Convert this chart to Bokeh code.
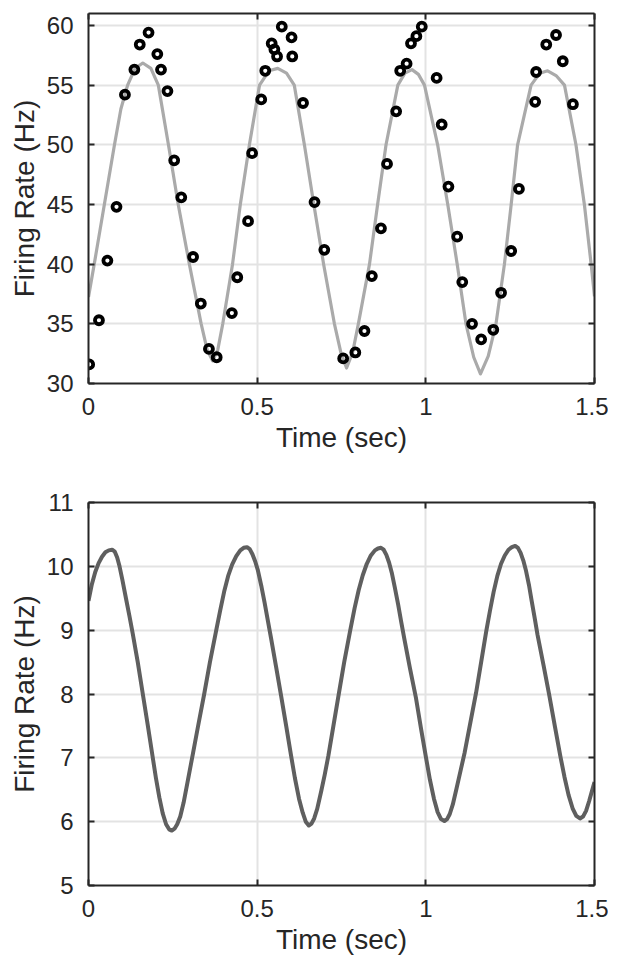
from bokeh.plotting import figure
from bokeh.layouts import column
from bokeh.models import Range1d, LinearAxis, FixedTicker
from bokeh.embed import file_html
from bokeh.resources import INLINE

# ---------------- data ----------------
x_ticks = [0, 0.5, 1, 1.5]
x_tick_labels = ["0", "0.5", "1", "1.5"]
top_y_ticks = [30, 35, 40, 45, 50, 55, 60]
bot_y_ticks = [5, 6, 7, 8, 9, 10, 11]

# observed firing rate (points)
obs_t = [0.002, 0.031, 0.056, 0.083, 0.108, 0.136, 0.152, 0.178, 0.204, 0.215,
         0.234, 0.254, 0.275, 0.310, 0.333, 0.357, 0.380, 0.425, 0.441, 0.473,
         0.485, 0.512, 0.524, 0.543, 0.551, 0.559, 0.573, 0.602, 0.604, 0.636,
         0.670, 0.699, 0.755, 0.791, 0.818, 0.840, 0.867, 0.885, 0.912, 0.924,
         0.943, 0.956, 0.972, 0.988, 1.032, 1.047, 1.067, 1.093, 1.108, 1.137,
         1.164, 1.200, 1.223, 1.253, 1.276, 1.324, 1.327, 1.357, 1.386, 1.406,
         1.436]
obs_rate = [31.6, 35.3, 40.3, 44.8, 54.2, 56.3, 58.4, 59.4, 57.6, 56.3,
            54.5, 48.7, 45.6, 40.6, 36.7, 32.9, 32.2, 35.9, 38.9, 43.6,
            49.3, 53.8, 56.2, 58.5, 58.0, 57.4, 59.9, 59.0, 57.4, 53.5,
            45.2, 41.2, 32.1, 32.6, 34.4, 39.0, 43.0, 48.4, 52.8, 56.2,
            56.8, 58.5, 59.1, 59.9, 55.6, 51.7, 46.5, 42.3, 38.5, 35.0,
            33.7, 34.5, 37.6, 41.1, 46.3, 53.6, 56.1, 58.4, 59.2, 57.0,
            53.4]

# fitted rate (gray line, top)
fit_t = [0.000, 0.017, 0.047, 0.077, 0.096, 0.116, 0.138, 0.161, 0.185, 0.207,
         0.237, 0.266, 0.299, 0.334, 0.352, 0.368, 0.383, 0.398, 0.427, 0.450,
         0.477, 0.507, 0.535, 0.561, 0.587, 0.610, 0.640, 0.668, 0.697, 0.729,
         0.748, 0.765, 0.783, 0.800, 0.833, 0.857, 0.882, 0.917, 0.938, 0.959,
         0.978, 0.996, 1.035, 1.065, 1.093, 1.119, 1.142, 1.162, 1.185, 1.208,
         1.233, 1.253, 1.272, 1.312, 1.338, 1.361, 1.386, 1.411, 1.445, 1.470,
         1.490, 1.500]
fit_rate = [37.25, 40.0, 45.0, 50.0, 53.0, 55.0, 56.4, 56.85, 56.4, 55.0,
            50.0, 45.0, 40.0, 35.0, 32.8, 31.9, 32.8, 35.0, 40.0, 45.0,
            50.0, 55.0, 56.2, 56.4, 56.0, 55.0, 50.0, 45.0, 40.0, 35.0,
            32.6, 31.3, 32.6, 35.0, 40.0, 45.0, 50.0, 55.0, 56.0, 56.3,
            55.9, 55.0, 50.0, 45.0, 40.0, 35.0, 32.2, 30.8, 32.3, 35.0,
            40.0, 45.0, 50.0, 55.0, 56.0, 56.2, 55.8, 55.0, 50.0, 45.0,
            40.0, 37.3]

# model rate (dark line, bottom)
model_t = [0.000, 0.010, 0.020, 0.030, 0.040, 0.050, 0.060, 0.070, 0.078, 0.085,
           0.092, 0.100, 0.111, 0.121, 0.131, 0.146, 0.161, 0.176, 0.190, 0.200,
           0.210, 0.220, 0.230, 0.239, 0.247, 0.255, 0.263, 0.272, 0.282, 0.295,
           0.309, 0.326, 0.343, 0.360, 0.378, 0.390, 0.402, 0.414, 0.426, 0.438,
           0.450, 0.460, 0.470, 0.478, 0.486, 0.494, 0.502, 0.512, 0.522, 0.531,
           0.541, 0.556, 0.571, 0.586, 0.600, 0.612, 0.624, 0.635, 0.644, 0.653,
           0.661, 0.669, 0.678, 0.690, 0.700, 0.711, 0.726, 0.741, 0.758, 0.776,
           0.789, 0.801, 0.813, 0.825, 0.837, 0.849, 0.858, 0.867, 0.875, 0.883,
           0.891, 0.899, 0.908, 0.918, 0.927, 0.936, 0.953, 0.971, 0.986, 1.000,
           1.012, 1.024, 1.035, 1.045, 1.055, 1.063, 1.071, 1.080, 1.091, 1.103,
           1.115, 1.132, 1.149, 1.164, 1.179, 1.190, 1.201, 1.212, 1.223, 1.234,
           1.245, 1.255, 1.265, 1.273, 1.281, 1.289, 1.297, 1.306, 1.314, 1.323,
           1.331, 1.349, 1.366, 1.383, 1.399, 1.411, 1.423, 1.435, 1.446, 1.457,
           1.466, 1.475, 1.484, 1.492, 1.500]
model_rate = [9.46, 9.72, 9.91, 10.05, 10.15, 10.22, 10.25, 10.26, 10.23, 10.14,
              10.00, 9.80, 9.50, 9.23, 8.95, 8.50, 8.00, 7.50, 7.02, 6.68,
              6.38, 6.13, 5.96, 5.88, 5.86, 5.89, 5.96, 6.08, 6.30, 6.66,
              7.05, 7.53, 8.00, 8.50, 8.98, 9.30, 9.60, 9.85, 10.03, 10.16,
              10.25, 10.29, 10.30, 10.27, 10.19, 10.08, 9.94, 9.70, 9.43, 9.17,
              8.88, 8.43, 7.97, 7.50, 7.05, 6.68, 6.36, 6.14, 6.00, 5.94,
              5.97, 6.05, 6.20, 6.48, 6.73, 7.03, 7.50, 7.97, 8.50, 9.00,
              9.35, 9.63, 9.86, 10.04, 10.17, 10.25, 10.28, 10.29, 10.26, 10.18,
              10.06, 9.90, 9.67, 9.40, 9.13, 8.87, 8.40, 7.93, 7.45, 7.02,
              6.66, 6.36, 6.15, 6.04, 6.01, 6.04, 6.12, 6.27, 6.52, 6.80,
              7.08, 7.55, 8.02, 8.50, 8.98, 9.30, 9.60, 9.85, 10.04, 10.17,
              10.26, 10.30, 10.32, 10.29, 10.21, 10.09, 9.93, 9.70, 9.45, 9.18,
              8.93, 8.45, 7.98, 7.48, 7.02, 6.70, 6.42, 6.21, 6.09, 6.05,
              6.08, 6.17, 6.32, 6.47, 6.62]

FONT = "Liberation Sans"
AX = "#262626"
GRID = "#e3e3e3"


def make_fig(height, ylo, yhi, yticks, top_b, bot_b):
    p = figure(width=608, height=height, output_backend="svg", toolbar_location=None,
               x_range=Range1d(0, 1.5), y_range=Range1d(ylo, yhi),
               min_border_left=88, min_border_right=14,
               min_border_top=top_b, min_border_bottom=bot_b,
               background_fill_color="white", border_fill_color="white")
    p.outline_line_color = None
    p.xaxis.ticker = FixedTicker(ticks=x_ticks)
    p.xaxis.major_label_overrides = dict(zip(x_ticks, x_tick_labels))
    p.yaxis.ticker = FixedTicker(ticks=yticks)
    p.xgrid.ticker = FixedTicker(ticks=x_ticks)
    p.ygrid.ticker = FixedTicker(ticks=yticks)
    for g in (p.xgrid, p.ygrid):
        g.grid_line_color = GRID
        g.grid_line_width = 2
    p.xaxis.axis_label = "Time (sec)"
    p.yaxis.axis_label = "Firing Rate (Hz)"
    for ax in (p.xaxis, p.yaxis):
        ax.axis_line_color = AX
        ax.axis_line_width = 2
        ax.major_tick_line_color = AX
        ax.major_tick_line_width = 2
        ax.major_tick_in = 6
        ax.major_tick_out = 0
        ax.minor_tick_line_color = None
        ax.major_label_text_font = FONT
        ax.major_label_text_font_size = "24px"
        ax.major_label_text_color = AX
        ax.axis_label_text_font = FONT
        ax.axis_label_text_font_size = "28px"
        ax.axis_label_text_font_style = "normal"
        ax.axis_label_text_color = AX
    p.xaxis.major_label_standoff = 14
    p.xaxis.axis_label_standoff = 4
    p.yaxis.major_label_standoff = 15
    p.yaxis.axis_label_standoff = 4
    # mirrored box axes (ticks only, no labels)
    for loc, tick in (("right", yticks), ("above", x_ticks)):
        a = LinearAxis(ticker=FixedTicker(ticks=tick))
        a.axis_line_color = AX
        a.axis_line_width = 2
        a.major_tick_line_color = AX
        a.major_tick_line_width = 2
        a.major_tick_in = 6
        a.major_tick_out = 0
        a.minor_tick_line_color = None
        a.major_label_text_color = None
        a.major_label_text_font_size = "10px"
        a.major_label_standoff = 0
        p.add_layout(a, loc)
    return p


p1 = make_fig(478, 30, 61, top_y_ticks, 13, 95)
p1.line(fit_t, fit_rate, line_color="#aaaaaa", line_width=3.2, line_join="round")
p1.scatter(obs_t, obs_rate, marker="circle", size=8, fill_alpha=0,
           line_color="black", line_width=3.8)

p2 = make_fig(482, 5, 11, bot_y_ticks, 24, 75)
p2.line(model_t, model_rate, line_color="#5f5f5f", line_width=4, line_join="round")

layout = column(p1, p2, spacing=0)
open("out.html", "w").write(file_html(layout, INLINE))
